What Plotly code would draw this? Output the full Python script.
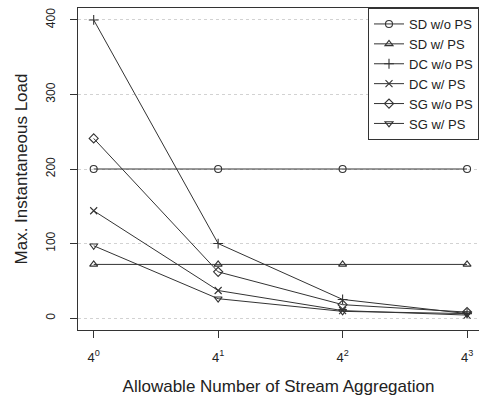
import plotly.graph_objects as go

x_vals = [1, 4, 16, 64]
tick_text = ["4<sup>0</sup>", "4<sup>1</sup>", "4<sup>2</sup>", "4<sup>3</sup>"]
y_ticks = [0, 100, 200, 300, 400]

series_names = ["SD w/o PS", "SD w/ PS", "DC w/o PS", "DC w/ PS", "SG w/o PS", "SG w/ PS"]
sd_wo_ps = [200, 200, 200, 200]
sd_w_ps = [72, 72, 72, 72]
dc_wo_ps = [400, 100, 25, 6]
dc_w_ps = [144, 37, 10, 4]
sg_wo_ps = [241, 62, 18, 8]
sg_w_ps = [97, 26, 9, 6]

series_values = [sd_wo_ps, sd_w_ps, dc_wo_ps, dc_w_ps, sg_wo_ps, sg_w_ps]
symbols = ["circle-open", "triangle-up-open", "cross-thin-open", "x-thin-open",
           "diamond-open", "triangle-down-open"]

ink = "#333333"
font_family = "Liberation Sans, Arial, sans-serif"

fig = go.Figure()
for name, vals, sym in zip(series_names, series_values, symbols):
    fig.add_trace(go.Scatter(
        x=x_vals, y=vals, name=name, mode="lines+markers",
        line=dict(color=ink, width=1),
        marker=dict(symbol=sym, size=7, color=ink, line=dict(color=ink, width=1.1)),
    ))

fig.update_layout(
    width=479, height=397,
    margin=dict(l=78, r=0, t=8, b=67),
    paper_bgcolor="white", plot_bgcolor="white",
    font=dict(family=font_family, color="#222222", size=12),
    showlegend=True,
    legend=dict(
        x=1, xanchor="right", y=1, yanchor="top",
        bordercolor=ink, borderwidth=1, bgcolor="white",
        font=dict(size=13, family=font_family, color="#222222"),
        tracegroupgap=0, itemwidth=30,
    ),
    xaxis=dict(
        type="log",
        range=[-0.0759, 1.864],
        tickvals=x_vals, ticktext=tick_text,
        showgrid=False, zeroline=False,
        showline=True, mirror=True, linecolor=ink, linewidth=1,
        ticks="outside", ticklen=7, tickcolor=ink,
        tickfont=dict(size=13),
        ticklabelstandoff=8,
        title=dict(text="Allowable Number of Stream Aggregation", font=dict(size=17), standoff=16),
    ),
    yaxis=dict(
        range=[-16, 416],
        tickvals=y_ticks,
        tickangle=-90,
        showgrid=True, gridcolor="#d2d2d2", griddash="dot", gridwidth=1,
        zeroline=False,
        showline=True, mirror=True, linecolor=ink, linewidth=1,
        ticks="outside", ticklen=7, tickcolor=ink,
        tickfont=dict(size=12),
        ticklabelstandoff=10,
        title=dict(text="Max. Instantaneous Load", font=dict(size=17), standoff=12),
        automargin=False,
    ),
)

fig.write_html("out.html", config={"displayModeBar": False},
               post_script="document.body.style.margin='0';")
